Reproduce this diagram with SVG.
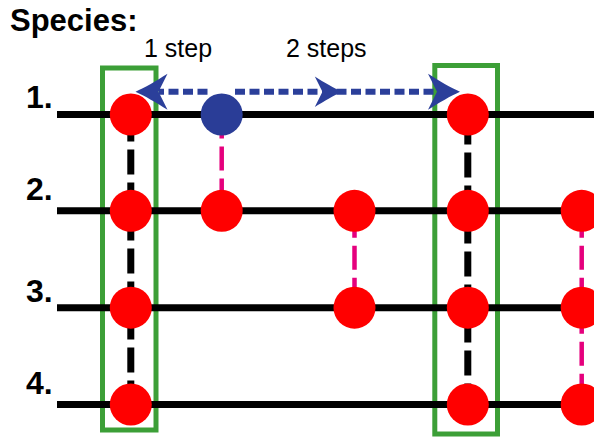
<svg xmlns="http://www.w3.org/2000/svg" xmlns:xlink="http://www.w3.org/1999/xlink" width="594" height="438" viewBox="0 0 594 438">
<style>
.lbl{font-family:"Liberation Sans",Arial,sans-serif;fill:#000}
.num{font-family:"Liberation Sans",Arial,sans-serif;font-weight:bold;font-size:32px;fill:#000}
.box{fill:none;stroke:#3c9f37;stroke-width:5}
.chrom{stroke:#000;stroke-width:7}
.bdash{stroke:#000;stroke-width:7;stroke-dasharray:25 8}
.pdash{stroke:#e5007d;stroke-width:4.5;stroke-dasharray:24 8}
.red{fill:#ff0000}
.blue{fill:#2a3d97}
.adash{stroke:#2b3f9a;stroke-width:6;stroke-dasharray:10 4.5;fill:none}
.ah{fill:#2b3f9a}
</style>
<defs>
<path id="ah" d="M0,0 C-9,-4 -21,-11 -32,-18 L-23,0 L-32,18 C-21,11 -9,4 0,0 Z"/>
</defs>
<rect width="594" height="438" fill="#fff"/>
<text class="lbl" x="10" y="31" font-size="31" font-weight="bold">Species:</text>
<text class="lbl" x="144" y="57" font-size="25">1 step</text>
<text class="lbl" x="286" y="57" font-size="25">2 steps</text>
<g id="labels">
<text class="num" x="26" y="108">1.</text>
<text class="num" x="26" y="200">2.</text>
<text class="num" x="26" y="301.5">3.</text>
<text class="num" x="26" y="394">4.</text>
</g>
<g id="boxes">
<rect id="box1" class="box" x="102.5" y="68" width="53.5" height="362"/>
<rect id="box2" class="box" x="434.8" y="65.5" width="62.7" height="368.5"/>
</g>
<g id="chromosomes">
<line class="chrom" x1="57" y1="114.5" x2="600" y2="114.5"/>
<line class="chrom" x1="57" y1="210.8" x2="600" y2="210.8"/>
<line class="chrom" x1="57" y1="307.7" x2="600" y2="307.7"/>
<line class="chrom" x1="57" y1="404.5" x2="600" y2="404.5"/>
</g>
<g id="connectors">
<line class="bdash" x1="130.8" y1="114.5" x2="130.8" y2="404.5" stroke-dashoffset="-2"/>
<line class="bdash" x1="467.8" y1="114.5" x2="467.8" y2="404.5" stroke-dashoffset="-5"/>
<line class="pdash" x1="221.7" y1="114.5" x2="221.7" y2="210.8"/>
<line class="pdash" x1="354.5" y1="210.8" x2="354.5" y2="307.7" stroke-dashoffset="-3"/>
<line class="pdash" x1="581.7" y1="210.8" x2="581.7" y2="404.5" stroke-dashoffset="-3"/>
<line class="adash" x1="207.5" y1="91.7" x2="159" y2="91.7"/>
<line class="adash" x1="235" y1="91.7" x2="438" y2="91.7"/>
<use xlink:href="#ah" class="ah" transform="translate(135.5,91.7) rotate(180)"/>
<use xlink:href="#ah" class="ah" transform="translate(342,91.7) scale(0.85)"/>
<use xlink:href="#ah" class="ah" transform="translate(460,91.7)"/>
</g>
<g id="col1">
<circle class="red" cx="130.8" cy="114.5" r="21"/>
<circle class="red" cx="130.8" cy="210.8" r="21"/>
<circle class="red" cx="130.8" cy="307.7" r="21"/>
<circle class="red" cx="130.8" cy="404.5" r="21"/>
</g>
<g id="col2">
<circle class="blue" cx="221.7" cy="114.5" r="21"/>
<circle class="red" cx="221.7" cy="210.8" r="21"/>
</g>
<g id="col3">
<circle class="red" cx="354.5" cy="210.8" r="21"/>
<circle class="red" cx="354.5" cy="307.7" r="21"/>
</g>
<g id="col4">
<circle class="red" cx="467.8" cy="114.5" r="21"/>
<circle class="red" cx="467.8" cy="210.8" r="21"/>
<circle class="red" cx="467.8" cy="307.7" r="21"/>
<circle class="red" cx="467.8" cy="404.5" r="21"/>
</g>
<g id="col5">
<circle class="red" cx="581.7" cy="210.8" r="21"/>
<circle class="red" cx="581.7" cy="307.7" r="21"/>
<circle class="red" cx="581.7" cy="404.5" r="21"/>
</g>
</svg>
